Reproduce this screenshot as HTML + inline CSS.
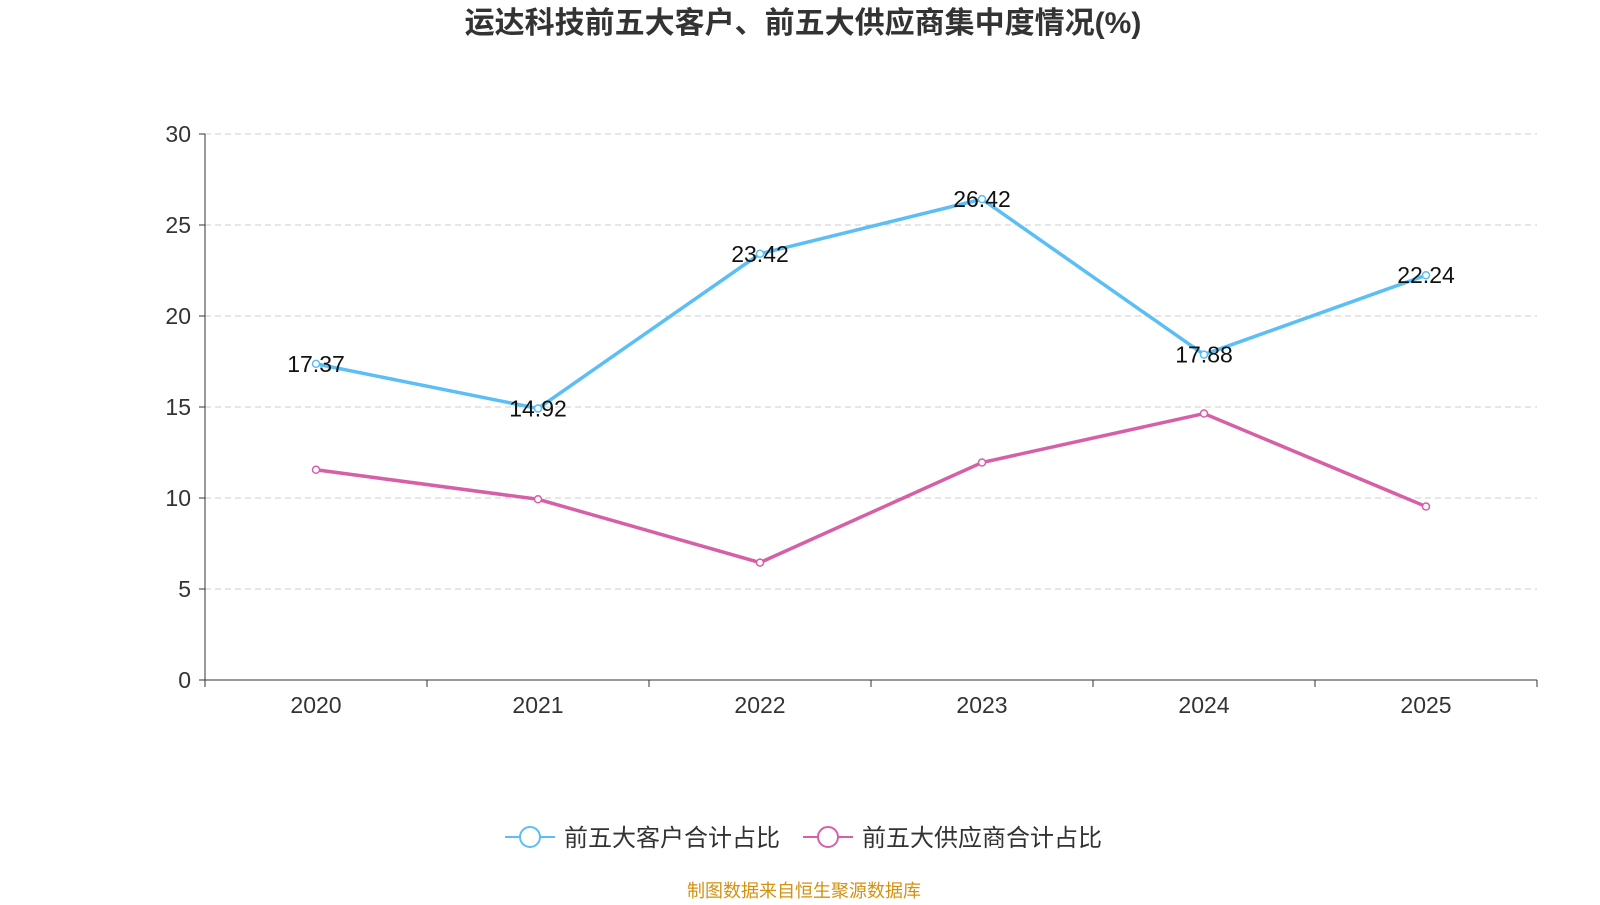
<!DOCTYPE html>
<html><head><meta charset="utf-8"><style>
body{margin:0;background:#fff;width:1600px;height:900px;overflow:hidden;font-family:"Liberation Sans","Noto Sans CJK SC",sans-serif;}
</style></head><body>
<svg id="c" width="1600" height="900" xmlns="http://www.w3.org/2000/svg">
<text x="803" y="33" text-anchor="middle" font-size="30" font-weight="bold" fill="#333" font-family="Liberation Sans, Noto Sans CJK SC, sans-serif">运达科技前五大客户、前五大供应商集中度情况(%)</text>
<g id="grid"></g><g id="axes"></g><g id="series"></g>
<g font-family="Liberation Sans, Noto Sans CJK SC, sans-serif">
<g>
<line x1="505" y1="837" x2="555" y2="837" stroke="#5bbef5" stroke-width="2"/><circle cx="530" cy="837" r="10" fill="#fff" stroke="#5bbef5" stroke-width="2"/>
<text x="564" y="846" font-size="24" fill="#333">前五大客户合计占比</text></g>
<g>
<line x1="803" y1="837" x2="853" y2="837" stroke="#d660a8" stroke-width="2"/><circle cx="828" cy="837" r="10" fill="#fff" stroke="#d660a8" stroke-width="2"/>
<text x="862" y="846" font-size="24" fill="#333">前五大供应商合计占比</text></g>
</g>
<text x="804" y="897" text-anchor="middle" font-size="18" fill="#d4900e">制图数据来自恒生聚源数据库</text>
</svg>
<script>
const categories=["2020","2021","2022","2023","2024","2025"];
const customers=[17.37,14.92,23.42,26.42,17.88,22.24];
const suppliers=[11.55,9.93,6.45,11.95,14.64,9.53];
const yTicks=[0,5,10,15,20,25,30];
const NS="http://www.w3.org/2000/svg";
const x0=205,x1=1537,y0=680,yTop=134,yMax=30;
const bw=(x1-x0)/categories.length;
const X=i=>x0+bw*(i+0.5);
const Y=v=>y0-(v/yMax)*(y0-yTop);
function mk(t,a,p){const e=document.createElementNS(NS,t);for(const k in a)e.setAttribute(k,a[k]);p.appendChild(e);return e;}
const grid=document.getElementById('grid'),axes=document.getElementById('axes'),ser=document.getElementById('series');
yTicks.forEach(v=>{
 if(v>0){const g=mk('line',{x1:x0,x2:x1,y1:Y(v),y2:Y(v),stroke:'#ccc','stroke-dasharray':'6,4'},grid);
 
 }
 mk('line',{x1:x0-6,x2:x0,y1:Y(v),y2:Y(v),stroke:'#333'},axes);
 const t=mk('text',{x:x0-14,y:Y(v)+8,'text-anchor':'end','font-size':23,fill:'#333'},axes);t.textContent=v;
 
 
});
const ya=mk('line',{x1:x0,x2:x0,y1:yTop,y2:y0,stroke:'#333'},axes);


const xa=mk('line',{x1:x0,x2:x1,y1:y0,y2:y0,stroke:'#333'},axes);


for(let i=0;i<=categories.length;i++)mk('line',{x1:x0+bw*i,x2:x0+bw*i,y1:y0,y2:y0+7,stroke:'#333'},axes);
categories.forEach((c,i)=>{const t=mk('text',{x:X(i),y:y0+33,'text-anchor':'middle','font-size':23,fill:'#333'},axes);t.textContent=c;
 
 });
function draw(vals,color,name,labels){
 const p=mk('polyline',{points:vals.map((v,i)=>X(i)+','+Y(v)).join(' '),fill:'none',stroke:color,'stroke-width':3.5},ser);
 
 
 vals.forEach((v,i)=>{const c=mk('circle',{cx:X(i),cy:Y(v),r:3.5,fill:'#fff',stroke:color,'stroke-width':1.5},ser);
  
  
  if(labels){const t=mk('text',{x:X(i),y:Y(v)+8,'text-anchor':'middle','font-size':23,fill:'#111'},ser);t.textContent=v.toFixed(2);
  
  }
 });
}
draw(suppliers,'#d660a8','suppliers',false);
draw(customers,'#5bbef5','customers',true);
</script>
</body></html>
